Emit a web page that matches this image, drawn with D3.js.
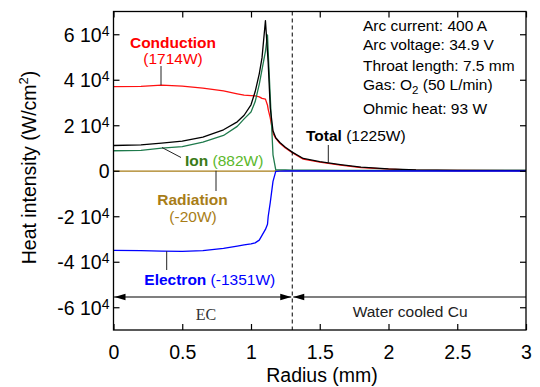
<!DOCTYPE html>
<html>
<head>
<meta charset="utf-8">
<script src="https://cdn.jsdelivr.net/npm/d3@7"></script>
<style>
  body { margin: 0; background: #fff; }
  svg { display: block; }
  text { font-family: "Liberation Sans", Arial, Helvetica, sans-serif; }
  text.serif { font-family: "Liberation Serif", "Times New Roman", serif; }
</style>
</head>
<body>
<svg id="chart" width="540" height="387"></svg>
<script>
// Radial positions (mm) where the heat-flux components are sampled
const radius = [0, 0.2, 0.35, 0.5, 0.65, 0.8, 0.9, 0.95, 1.0, 1.03, 1.06, 1.08, 1.105, 1.12, 1.125,
                1.14, 1.16, 1.18, 1.21, 1.25, 1.3, 1.38, 1.5, 1.65, 1.8, 2.0, 2.2, 2.5, 3.0];

// Heat intensity components (W/cm^2)
const conduction = [37000, 37100, 37600, 37200, 36300, 35100, 33800, 33200, 33000, 32900, 32500, 31800, 31500, 28800, 27000,
                    23200, 16500, 14200, 12100, 10000, 7900, 5100, 3800, 2500, 1400, 720, 300, 100, 30];
const ion        = [8800, 9000, 9900, 10600, 12600, 15500, 19500, 22800, 25800, 30300, 38000, 44500, 52500, 59700, 52200,
                    32500, 7000, 400, 400, 350, 300, 300, 250, 200, 200, 150, 150, 100, 100];
const electron   = [-35000, -35100, -35300, -35400, -35100, -34100, -33100, -32600, -32100, -31700, -30500, -28400, -25800, -23500, -20100,
                    -14000, -4700, -300, -150, -120, -100, -100, -100, -100, -100, -100, -100, -100, -100];
const radiation  = [-150, -150, -150, -150, -150, -150, -150, -150, -150, -150, -150, -150, -150, -150, -150,
                    -150, -150, -100, -80, -60, -50, -50, -50, -40, -40, -30, -30, -20, -20];
const total      = [11100, 11400, 12100, 13000, 14800, 18000, 21500, 24400, 29000, 34700, 42600, 49600, 66000, 52200, 47400,
                    27700, 17600, 14500, 12400, 10300, 8200, 5400, 4000, 2700, 1600, 850, 400, 200, 100];

// Axis ticks
const xTicks = [0, 0.5, 1, 1.5, 2, 2.5, 3];
const yTicks = [-60000, -40000, -20000, 0, 20000, 40000, 60000];

// Electrode / wall boundary (mm) and region names
const boundaryRadius = 1.3;
const regionNames = ["EC", "Water cooled Cu"];

// Operating conditions
const notes = ["Arc current: 400 A", "Arc voltage: 34.9 V", "Throat length: 7.5 mm", "Gas: O|2| (50 L/min)", "Ohmic heat: 93 W"];

// Integrated powers
const powerLabels = { conduction: "(1714W)", ion: "(882W)", radiation: "(-20W)", electron: "(-1351W)", total: "(1225W)" };

const svg = d3.select("#chart");
const plot = { left: 113.5, right: 526, top: 11.5, bottom: 330 };

const x = d3.scaleLinear().domain([0, 3]).range([plot.left, plot.right]);
const y = d3.scaleLinear().domain([-70000, 70000]).range([plot.bottom, plot.top]);

// Curves
const line = vals => d3.line().x((d, i) => x(radius[i])).y(d => y(d))(vals);
const curves = [
  { vals: radiation, color: "#a87d18" },
  { vals: conduction, color: "#ff1010" },
  { vals: ion, color: "#1f7a4c" },
  { vals: total, color: "#000000" },
  { vals: electron, color: "#0000ff" }
];
svg.append("g").selectAll("path").data(curves).join("path")
  .attr("d", c => line(c.vals))
  .attr("fill", "none")
  .attr("stroke", c => c.color)
  .attr("stroke-width", 1.3)
  .attr("stroke-linejoin", "round");

// Boundary between electrode and cooled wall
svg.append("line")
  .attr("x1", x(boundaryRadius)).attr("x2", x(boundaryRadius))
  .attr("y1", plot.top).attr("y2", plot.bottom)
  .attr("stroke", "#000").attr("stroke-width", 1).attr("stroke-dasharray", "4,3");

// Axes: bottom with labels, top / right unlabeled, ticks pointing inward
const fontTick = 19.5;
const gx = svg.append("g").attr("transform", `translate(0,${plot.bottom})`)
  .call(d3.axisBottom(x).tickValues(xTicks).tickFormat(d3.format("")).tickSizeInner(-6).tickSizeOuter(0).tickPadding(15));
const gxTop = svg.append("g").attr("transform", `translate(0,${plot.top})`)
  .call(d3.axisTop(x).tickValues(xTicks).tickFormat("").tickSizeInner(-6).tickSizeOuter(0));
const gy = svg.append("g").attr("transform", `translate(${plot.left},0)`)
  .call(d3.axisLeft(y).tickValues(yTicks).tickSizeInner(-6).tickSizeOuter(0).tickPadding(4));
const gyRight = svg.append("g").attr("transform", `translate(${plot.right},0)`)
  .call(d3.axisRight(y).tickValues(yTicks).tickFormat("").tickSizeInner(-6).tickSizeOuter(0));

[gx, gxTop, gy, gyRight].forEach(g => {
  g.select(".domain").remove();
  g.selectAll(".tick line").attr("stroke", "#000").attr("stroke-width", 1.2);
  g.selectAll(".tick text").attr("fill", "#000").attr("font-size", fontTick);
});
gx.selectAll(".tick text").attr("dy", "0.71em");

// Y tick labels in "6 10^4" form
gy.selectAll(".tick text").each(function (d) {
  const t = d3.select(this).text(null).attr("dy", "0.35em");
  if (d === 0) { t.text("0"); return; }
  t.append("tspan").text(`${d / 1e4} 10`);
  t.append("tspan").attr("dy", -6).attr("font-size", 14).text("4");
});

// Plot frame
svg.append("rect")
  .attr("x", plot.left).attr("y", plot.top)
  .attr("width", plot.right - plot.left).attr("height", plot.bottom - plot.top)
  .attr("fill", "none").attr("stroke", "#000").attr("stroke-width", 1.3);

// Axis titles
svg.append("text")
  .attr("x", 322).attr("y", 381.5).attr("text-anchor", "middle")
  .attr("font-size", 19.5).attr("fill", "#000").text("Radius (mm)");
const yt = svg.append("text")
  .attr("transform", "translate(36,167.5) rotate(-90)")
  .attr("text-anchor", "middle").attr("font-size", 19.5).attr("fill", "#000");
yt.append("tspan").text("Heat intensity (W/cm");
yt.append("tspan").attr("dy", -8).attr("font-size", 13).text("2");
yt.append("tspan").attr("dy", 8).text(")");

// Region arrows along the bottom
const arrowY = y(-55500);
const arrowLen = 11, arrowHalf = 3.2;
function arrowHead(tipX, dir) {
  svg.append("path")
    .attr("d", `M${tipX},${arrowY} L${tipX - dir * arrowLen},${arrowY - arrowHalf} L${tipX - dir * arrowLen},${arrowY + arrowHalf} Z`)
    .attr("fill", "#000");
}
const xb = x(boundaryRadius);
svg.append("line").attr("x1", x(0)).attr("x2", xb - 1).attr("y1", arrowY).attr("y2", arrowY)
  .attr("stroke", "#000").attr("stroke-width", 1.2);
svg.append("line").attr("x1", xb + 1).attr("x2", x(3)).attr("y1", arrowY).attr("y2", arrowY)
  .attr("stroke", "#000").attr("stroke-width", 1.2);
arrowHead(x(0) + 1, -1);
arrowHead(xb - 1, 1);
arrowHead(xb + 1, -1);

svg.append("text").attr("class", "serif")
  .attr("x", x(boundaryRadius / 2) + 3).attr("y", 319.5).attr("text-anchor", "middle")
  .attr("font-size", 16).attr("fill", "#333").text(regionNames[0]);
svg.append("text").attr("x", x((boundaryRadius + 3) / 2) + 1).attr("y", 317).attr("text-anchor", "middle")
  .attr("font-size", 15.5).attr("fill", "#222").text(regionNames[1]);

// Operating conditions block
const noteY = [30.7, 50, 70.5, 90, 114];
notes.forEach((n, i) => {
  const t = svg.append("text").attr("x", 363).attr("y", noteY[i]).attr("font-size", 15.5).attr("fill", "#000");
  const parts = n.split("|");
  t.append("tspan").text(parts[0]);
  if (parts.length > 1) {
    t.append("tspan").attr("dy", 4).attr("font-size", 11.5).text(parts[1]);
    t.append("tspan").attr("dy", -4).text(parts[2]);
  }
});

// Leader lines from labels to curves
const leaders = [
  [161, 66, 161, y(37600)],
  [162, 147.5, 181, 157.5],
  [216, y(0), 216, 191],
  [166.7, y(-35350), 166.7, 270],
  [328.3, 145, 328.3, y(3300)]
];
svg.append("g").selectAll("line").data(leaders).join("line")
  .attr("x1", d => d[0]).attr("y1", d => d[1]).attr("x2", d => d[2]).attr("y2", d => d[3])
  .attr("stroke", "#222").attr("stroke-width", 1);

// Series labels
const fs = 15.5;
svg.append("text").attr("x", 173).attr("y", 47.5).attr("text-anchor", "middle")
  .attr("font-size", fs).attr("font-weight", "bold").attr("fill", "#ff0000").text("Conduction");
svg.append("text").attr("x", 173).attr("y", 64).attr("text-anchor", "middle")
  .attr("font-size", fs).attr("fill", "#ff0000").text(powerLabels.conduction);

const tIon = svg.append("text").attr("x", 185).attr("y", 166).attr("font-size", fs);
tIon.append("tspan").attr("font-weight", "bold").attr("fill", "#3a7a18").text("Ion");
tIon.append("tspan").attr("fill", "#5cb82c").text(" " + powerLabels.ion);

svg.append("text").attr("x", 192.5).attr("y", 205).attr("text-anchor", "middle")
  .attr("font-size", fs).attr("font-weight", "bold").attr("fill", "#a87d18").text("Radiation");
svg.append("text").attr("x", 193).attr("y", 222).attr("text-anchor", "middle")
  .attr("font-size", fs).attr("fill", "#a87d18").text(powerLabels.radiation);

const tEl = svg.append("text").attr("x", 144.3).attr("y", 284.5).attr("font-size", fs).attr("fill", "#0000ff");
tEl.append("tspan").attr("font-weight", "bold").text("Electron");
tEl.append("tspan").text(" " + powerLabels.electron);

const tTot = svg.append("text").attr("x", 306).attr("y", 140.5).attr("font-size", fs).attr("fill", "#000");
tTot.append("tspan").attr("font-weight", "bold").text("Total");
tTot.append("tspan").text(" " + powerLabels.total);
</script>
</body>
</html>
